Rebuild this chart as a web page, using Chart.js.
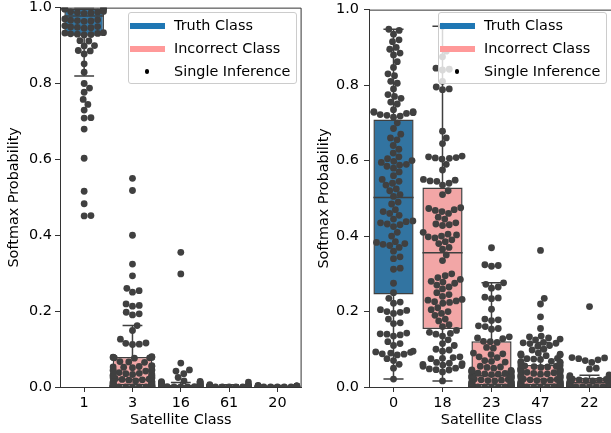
<!DOCTYPE html>
<html>
<head>
<meta charset="utf-8">
<script src="https://cdn.jsdelivr.net/npm/chart.js@4.4.1/dist/chart.umd.min.js"></script>
<style>
  body { margin: 0; width: 611px; height: 433px; overflow: hidden; position: relative; background: #fff; font-family: 'DejaVu Sans', sans-serif; }
  canvas { position: absolute; top: -4px; }
  .legend { position: absolute; top: 12px; width: 169px; height: 72px; box-sizing: border-box; border: 1px solid #cccccc; border-radius: 3px; background: rgba(255, 255, 255, 0.8); }
  .legend .row { position: absolute; left: 0; height: 0; }
  .legend .swatch { position: absolute; left: 1px; top: -3px; width: 35px; height: 6px; }
  .legend .dot { position: absolute; left: 15.75px; top: -2.25px; width: 4.5px; height: 4.5px; border-radius: 50%; background: #000; }
  .legend .text { position: absolute; left: 45px; top: -9px; line-height: 17px; font-size: 14.4px; color: #000; white-space: nowrap; }
</style>
</head>
<body>
<canvas id="leftChart" width="305" height="437" style="left:0"></canvas>
<canvas id="rightChart" width="320" height="437" style="left:305px"></canvas>
<script>
// axis labels
const xLabelsLeft = ['1', '3', '16', '61', '20'];
const xLabelsRight = ['0', '18', '23', '47', '22'];
const yTicks = [0, 0.2, 0.4, 0.6, 0.8, 1.0];
const legendLabels = ['Truth Class', 'Incorrect Class', 'Single Inference'];

// left panel: softmax output of every single inference, per class
const left1 = [0.999, 0.998, 0.998, 0.997, 0.997, 0.996,
  0.99, 0.989, 0.988, 0.987, 0.986, 0.985,
  0.97, 0.968, 0.967, 0.966, 0.965, 0.964,
  0.952, 0.95, 0.949, 0.948, 0.947, 0.946,
  0.934, 0.933, 0.932, 0.931, 0.93, 0.929, 0.928,
  0.913, 0.912, 0.9, 0.899, 0.887, 0.886, 0.878, 0.852, 0.83, 0.80, 0.788, 0.777,
  0.758, 0.745, 0.73, 0.71, 0.709, 0.68, 0.603, 0.516, 0.483, 0.452, 0.451];
const left3 = [0.55, 0.518, 0.40, 0.324, 0.293, 0.26, 0.254, 0.25, 0.219, 0.215, 0.213,
  0.197, 0.193, 0.19, 0.162, 0.149, 0.126, 0.116, 0.115, 0.113, 0.112,
  0.08, 0.079, 0.079, 0.078, 0.078, 0.077, 0.077, 0.076,
  0.067, 0.066, 0.065,
  0.056, 0.055, 0.054, 0.053, 0.052, 0.051,
  0.046, 0.045, 0.044, 0.043, 0.042, 0.038,
  0.036, 0.035, 0.034, 0.033, 0.032, 0.031, 0.03, 0.028, 0.027,
  0.025, 0.024, 0.023, 0.022, 0.021, 0.02, 0.019, 0.018, 0.016, 0.015,
  0.014, 0.013, 0.012, 0.011, 0.01, 0.009, 0.008, 0.007, 0.006,
  0.005, 0.004, 0.004, 0.004, 0.003, 0.003, 0.003, 0.002, 0.002, 0.002, 0.001, 0.001,
  0.001, 0.001, 0.0008, 0.0005, 0.0005, 0.0004, 0.0003, 0.0002, 0.0001];
const left16 = [0.355, 0.298, 0.063, 0.045, 0.042, 0.035, 0.025, 0.016, 0.015, 0.014,
  0.013, 0.012, 0.011, 0.01, 0.009, 0.008, 0.007, 0.006, 0.005, 0.004, 0.004,
  0.003, 0.003, 0.003, 0.002, 0.002, 0.002, 0.002, 0.001, 0.001, 0.001, 0.001,
  0.001, 0.0005, 0.0005, 0.0002];
const left61 = [0.013, 0.006, 0.005, 0.004, 0.004, 0.003, 0.003, 0.003, 0.002, 0.002,
  0.002, 0.002, 0.001, 0.001, 0.001, 0.001, 0.001, 0.0005, 0.0005, 0.0005,
  0.0002, 0.0002, 0.0001, 0.0001];
const left20 = [0.004, 0.003, 0.003, 0.003, 0.002, 0.002, 0.002, 0.002, 0.001, 0.001,
  0.001, 0.001, 0.001, 0.0008, 0.0005, 0.0005, 0.0003, 0.0002, 0.0001, 0.0001];

// left panel box statistics
const leftQ1 = [0.926, 0.004, 0.0005, 0.0005, 0.0003];
const leftMed = [0.978, 0.02, 0.002, 0.001, 0.001];
const leftQ3 = [0.998, 0.079, 0.006, 0.003, 0.002];
const leftLo = [0.82, 0, 0, 0, 0];
const leftHi = [1.0, 0.162, 0.012, 0.006, 0.004];

// right panel
const right0 = [0.948, 0.945, 0.935, 0.92, 0.915, 0.90, 0.895, 0.885, 0.88, 0.862, 0.847,
  0.83, 0.825, 0.81, 0.805, 0.79, 0.775, 0.77, 0.765, 0.755, 0.75, 0.735, 0.73, 0.73,
  0.728, 0.727, 0.725, 0.722, 0.72, 0.718, 0.715,
  0.70, 0.685, 0.67, 0.66, 0.655, 0.64, 0.63, 0.62, 0.61, 0.605, 0.60, 0.598, 0.595,
  0.59, 0.588, 0.585, 0.58, 0.57, 0.56, 0.55, 0.545, 0.54, 0.535, 0.525, 0.52, 0.51, 0.505,
  0.49, 0.485, 0.47, 0.465, 0.46, 0.455, 0.445, 0.44, 0.438, 0.435, 0.432, 0.43, 0.425,
  0.41, 0.40, 0.385, 0.383, 0.38, 0.378, 0.375, 0.37, 0.36, 0.345, 0.34, 0.315, 0.312,
  0.275, 0.25,
  0.235, 0.225, 0.222, 0.205, 0.203, 0.2, 0.198, 0.195, 0.18, 0.17, 0.168, 0.143, 0.141,
  0.14, 0.138, 0.135, 0.12, 0.115, 0.11, 0.095, 0.093, 0.092, 0.09, 0.088, 0.087, 0.085,
  0.075, 0.07, 0.06, 0.05, 0.021];
const right18 = [0.956, 0.89, 0.875, 0.845, 0.842, 0.84, 0.81, 0.795, 0.79, 0.788, 0.678,
  0.66, 0.645, 0.612, 0.61, 0.608, 0.607, 0.606, 0.604, 0.59, 0.575, 0.55, 0.548, 0.546,
  0.545, 0.54, 0.535,
  0.52, 0.51, 0.475, 0.473, 0.47, 0.468, 0.465, 0.46, 0.45, 0.445, 0.435, 0.432, 0.43,
  0.428, 0.41, 0.405, 0.403, 0.40, 0.398, 0.395, 0.39, 0.385, 0.38, 0.37, 0.365,
  0.35, 0.335, 0.30, 0.295, 0.29, 0.285, 0.28, 0.278, 0.275, 0.27, 0.265, 0.26, 0.25,
  0.245, 0.24, 0.232, 0.23, 0.228, 0.226, 0.224, 0.222, 0.21, 0.205, 0.2, 0.195, 0.19,
  0.18, 0.175, 0.165, 0.16,
  0.15, 0.145, 0.142, 0.14, 0.135, 0.125, 0.115, 0.11, 0.1, 0.098, 0.095, 0.08, 0.078,
  0.076, 0.075, 0.065, 0.063, 0.062, 0.06, 0.058, 0.057, 0.055, 0.05, 0.048, 0.046,
  0.045, 0.04, 0.016];
const right23 = [0.369, 0.324, 0.322, 0.32, 0.276, 0.272, 0.265, 0.262, 0.238, 0.236, 0.234,
  0.206, 0.18, 0.178, 0.176, 0.162, 0.16, 0.155, 0.153, 0.133, 0.13, 0.128, 0.121, 0.12,
  0.118, 0.105, 0.103, 0.09, 0.088, 0.086, 0.08, 0.078, 0.07, 0.068, 0.066, 0.055, 0.053,
  0.052, 0.05,
  0.045, 0.044, 0.043, 0.043, 0.042, 0.041, 0.04, 0.039, 0.038, 0.037, 0.036, 0.035, 0.034,
  0.033, 0.032, 0.031, 0.03, 0.029, 0.028, 0.027, 0.026, 0.025, 0.024, 0.023, 0.022,
  0.021, 0.02, 0.019, 0.018, 0.017, 0.016, 0.015, 0.014, 0.013, 0.012, 0.012, 0.011,
  0.01, 0.009, 0.008, 0.008, 0.007, 0.006, 0.006, 0.005, 0.005, 0.004, 0.004, 0.003,
  0.003, 0.003, 0.002, 0.002, 0.002, 0.002, 0.001, 0.001, 0.001, 0.001, 0.001, 0.0007,
  0.0005, 0.0005, 0.0004, 0.0003, 0.0002, 0.0001];
const right47 = [0.362, 0.235, 0.22, 0.186, 0.155, 0.135, 0.133, 0.13, 0.127, 0.125, 0.118,
  0.117, 0.116, 0.115, 0.11, 0.108, 0.1, 0.098, 0.09, 0.088, 0.087, 0.086, 0.085, 0.084,
  0.083, 0.076, 0.075, 0.074, 0.073, 0.068, 0.067, 0.066, 0.065, 0.064,
  0.058, 0.057, 0.056, 0.055, 0.054, 0.053, 0.052, 0.05, 0.048, 0.047, 0.046, 0.045,
  0.044, 0.043, 0.041, 0.04, 0.039, 0.038, 0.036, 0.035, 0.034, 0.032, 0.031, 0.03,
  0.028, 0.027, 0.026, 0.024, 0.022, 0.021, 0.02, 0.019, 0.018, 0.017, 0.016, 0.015,
  0.014, 0.013, 0.012, 0.011, 0.01, 0.009, 0.009, 0.008, 0.007, 0.006, 0.006, 0.005,
  0.004, 0.004, 0.003, 0.003, 0.003, 0.002, 0.002, 0.002, 0.001, 0.001, 0.001, 0.0008,
  0.0005, 0.0004, 0.0003, 0.0001];
const right22 = [0.213, 0.078, 0.077, 0.075, 0.072, 0.07, 0.065, 0.05, 0.048, 0.032, 0.03,
  0.028, 0.026, 0.025, 0.024, 0.022, 0.021, 0.02, 0.019, 0.018, 0.017, 0.016, 0.015,
  0.014, 0.013, 0.012, 0.011, 0.01, 0.01, 0.009, 0.008, 0.008, 0.007, 0.007, 0.006,
  0.006, 0.005, 0.005, 0.004, 0.004, 0.004, 0.003, 0.003, 0.003, 0.002, 0.002, 0.002,
  0.002, 0.001, 0.001, 0.001, 0.001, 0.0008, 0.0006, 0.0005, 0.0004, 0.0003, 0.0002,
  0.0001];

const rightQ1 = [0.245, 0.154, 0.004, 0.004, 0.003];
const rightMed = [0.502, 0.356, 0.03, 0.02, 0.011];
const rightQ3 = [0.709, 0.529, 0.121, 0.058, 0.024];
const rightLo = [0.021, 0.016, 0, 0, 0];
const rightHi = [0.948, 0.956, 0.276, 0.118, 0.031];

const TRUTH_BOX = '#3274a1';
const WRONG_BOX = '#f2a6a6';
const TRUTH_LINE = '#1f77b4';
const WRONG_LINE = '#ff9999';
const EDGE = '#3f3f3f';
const DOT = '#404040';
const AXIS = '#333333';

Chart.defaults.font.family = 'DejaVu Sans';
Chart.defaults.font.size = 14.4;
Chart.defaults.color = '#000';

// whiskers, caps and median as one broken line
function boxLines(q1, med, q3, lo, hi) {
  const pts = [];
  q1.forEach((_, i) => {
    const gap = { x: i, y: null };
    pts.push({ x: i, y: lo[i] }, { x: i, y: q1[i] }, gap,
      { x: i, y: q3[i] }, { x: i, y: hi[i] }, gap,
      { x: i - 0.205, y: lo[i] }, { x: i + 0.205, y: lo[i] }, gap,
      { x: i - 0.205, y: hi[i] }, { x: i + 0.205, y: hi[i] }, gap,
      { x: i - 0.41, y: med[i] }, { x: i + 0.41, y: med[i] }, gap);
  });
  return pts;
}

const framePlugin = {
  id: 'frame',
  afterDatasetsDraw(chart) {
    const { ctx, chartArea: a } = chart;
    ctx.save();
    ctx.strokeStyle = AXIS;
    ctx.lineWidth = 1;
    ctx.beginPath();
    ctx.moveTo(a.left, a.top + 0.5);
    ctx.lineTo(a.right - 0.5, a.top + 0.5);
    ctx.lineTo(a.right - 0.5, a.bottom);
    ctx.stroke();
    ctx.restore();
  }
};

// beeswarm placement, like seaborn: nearest free offset, then clamp into the gutter
function swarm(chart, series) {
  const xs = chart.scales.x, ys = chart.scales.y;
  const d = 2 * chart.data.datasets[0].pointRadius;
  const out = [];
  series.forEach((vals, i) => {
    const cx = xs.getPixelForValue(i);
    const limit = xs.getPixelForValue(i + 0.4) - cx;
    const placed = [];
    vals.map(v => ({ v, py: ys.getPixelForValue(v) }))
      .sort((a, b) => b.py - a.py)
      .forEach(p => {
        const near = placed.filter(q => Math.abs(q.py - p.py) < d);
        const cands = [0];
        near.forEach(q => {
          const dx = Math.sqrt(d * d - (q.py - p.py) ** 2);
          cands.push(q.ox + dx, q.ox - dx);
        });
        cands.sort((a, b) => Math.abs(a) - Math.abs(b));
        p.ox = cands.find(c => near.every(q => (q.ox - c) ** 2 + (q.py - p.py) ** 2 >= d * d - 0.01));
        placed.push(p);
      });
    placed.forEach(p => {
      const off = Math.max(-limit, Math.min(limit, p.ox));
      out.push({ x: xs.getValueForPixel(cx + off), y: p.v });
    });
  });
  chart.data.datasets[0].data = out;
  chart.update('none');
}

function makeChart(id, labels, series, q1, med, q3, lo, hi, yWidth, padRight, tickPad, titlePad) {
  const dots = [];
  series.forEach((vals, i) => vals.forEach(v => dots.push({ x: i, y: v })));
  const axisGrid = { display: true, drawOnChartArea: false, drawTicks: true, tickLength: 5, color: AXIS, offset: false };
  const chart = new Chart(document.getElementById(id), {
    type: 'bar',
    data: {
      datasets: [
        {
          type: 'scatter', label: legendLabels[2], data: dots, order: 0,
          backgroundColor: DOT, borderWidth: 0, pointRadius: 3.4, pointHoverRadius: 3.4, clip: 0
        },
        {
          type: 'line', data: boxLines(q1, med, q3, lo, hi), order: 1,
          borderColor: EDGE, borderWidth: 1.5, pointRadius: 0, spanGaps: false, clip: 0
        },
        {
          type: 'bar', data: q1.map((v, i) => ({ x: i, y: [v, q3[i]] })), order: 2,
          backgroundColor: labels.map((_, i) => i === 0 ? TRUTH_BOX : WRONG_BOX),
          borderColor: EDGE, borderWidth: 1.5, borderSkipped: false,
          barPercentage: 0.82, categoryPercentage: 1, clip: 0
        }
      ]
    },
    options: {
      responsive: false,
      animation: false,
      events: [],
      layout: { padding: { top: 9, right: padRight, left: 0, bottom: 0 } },
      plugins: { legend: { display: false }, tooltip: { enabled: false } },
      scales: {
        x: {
          type: 'linear', min: -0.5, max: 4.5, offset: false, z: 1,
          afterBuildTicks: a => { a.ticks = labels.map((_, i) => ({ value: i })); },
          afterFit: a => { a.height = 46; },
          grid: axisGrid,
          border: { color: AXIS, width: 1 },
          ticks: { padding: 3, autoSkip: false, maxRotation: 0, callback: v => labels[v] },
          title: { display: true, text: 'Satellite Class', padding: { top: 2, bottom: 4 } }
        },
        y: {
          type: 'linear', min: 0, max: 1, z: 1,
          afterBuildTicks: a => { a.ticks = yTicks.map(v => ({ value: v })); },
          afterFit: a => { a.width = yWidth; },
          grid: axisGrid,
          border: { color: AXIS, width: 1 },
          ticks: { padding: tickPad, callback: v => v.toFixed(1) },
          title: { display: true, text: 'Softmax Probability', padding: { top: titlePad, bottom: 0 } }
        }
      }
    },
    plugins: [framePlugin]
  });
  swarm(chart, series);
  return chart;
}

function addLegend(left) {
  const box = document.createElement('div');
  box.className = 'legend';
  box.style.left = left + 'px';
  const marks = [TRUTH_LINE, WRONG_LINE, null];
  legendLabels.forEach((text, i) => {
    const row = document.createElement('div');
    row.className = 'row';
    row.style.top = (12.5 + i * 23) + 'px';
    const mark = document.createElement('div');
    if (marks[i]) {
      mark.className = 'swatch';
      mark.style.background = marks[i];
    } else {
      mark.className = 'dot';
    }
    const label = document.createElement('div');
    label.className = 'text';
    label.textContent = text;
    row.appendChild(mark);
    row.appendChild(label);
    box.appendChild(row);
  });
  document.body.appendChild(box);
}

makeChart('leftChart', xLabelsLeft, [left1, left3, left16, left61, left20],
  leftQ1, leftMed, leftQ3, leftLo, leftHi, 60, 2, 3, 6);
makeChart('rightChart', xLabelsRight, [right0, right18, right23, right47, right22],
  rightQ1, rightMed, rightQ3, rightLo, rightHi, 64, 11, 5, 11);
addLegend(128);
addLegend(438);
</script>
</body>
</html>
